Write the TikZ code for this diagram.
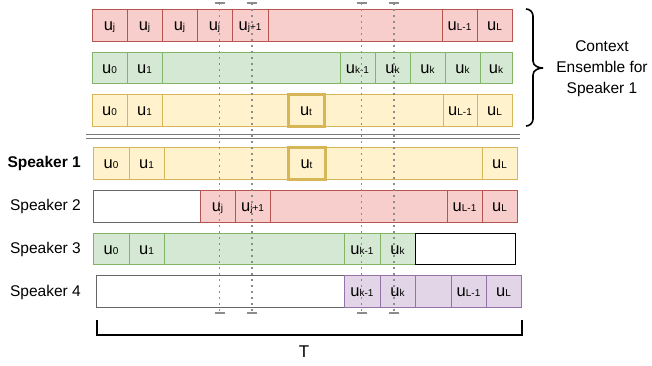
\documentclass[tikz,border=0pt]{standalone}
\usepackage{fontspec}
\setmainfont{Liberation Sans}
\definecolor{rfill}{HTML}{F8CECC}\definecolor{rline}{HTML}{B85450}
\definecolor{gfill}{HTML}{D5E8D4}\definecolor{gline}{HTML}{82B366}
\definecolor{yfill}{HTML}{FFF2CC}\definecolor{yline}{HTML}{D6B656}
\definecolor{pfill}{HTML}{E1D5E7}\definecolor{pline}{HTML}{9673A6}
\definecolor{dgray}{HTML}{666666}
\definecolor{dotgray}{HTML}{8C8C8C}
\definecolor{sepgray}{HTML}{7A7A7A}
\newcommand\uu[1]{{\fontsize{16.5}{16.5}\selectfont u}{\fontsize{10}{10}\selectfont #1}}
\newcommand\cbox[6]{\node[cellbox,#1,minimum width={#4-#3},minimum height={#6-#5}] (#2) at (#3,#5) {};}
\newcommand\lbl[2]{\node[inner sep=0,anchor=base] at ([yshift=-5.5pt]#1) {\uu{#2}};}
\tikzset{
  cellbox/.style={draw,line width=1pt,inner sep=0,outer sep=0,anchor=north west},
  red/.style={fill=rfill,draw=rline},
  grn/.style={fill=gfill,draw=gline},
  yel/.style={fill=yfill,draw=yline},
  pur/.style={fill=pfill,draw=pline},
  wht/.style={fill=white,draw=dgray},
  whtb/.style={fill=white,draw=black},
  boldy/.style={fill=yfill,draw=yline,line width=3pt},
  dotline/.style={draw=dotgray,line width=1.8pt,dash pattern=on 1.8pt off 4.2pt},
  tickmark/.style={draw=dotgray,line width=1.5pt},
  spk/.style={anchor=east,inner sep=0,font=\fontsize{15.5}{15.5}\selectfont},
}
\begin{document}
\begin{tikzpicture}[x=1pt,y=-1pt]
\useasboundingbox (0,0) rectangle (652,365);
% Context row 1 (red)
\cbox{red}{a1}{92}{127}{9}{41}\lbl{a1.center}{j}
\cbox{red}{a2}{127}{162}{9}{41}\lbl{a2.center}{j}
\cbox{red}{a3}{162}{197}{9}{41}\lbl{a3.center}{j}
\cbox{red}{a4}{197}{232}{9}{41}\lbl{a4.center}{j}
\cbox{red}{a5}{232}{268}{9}{41}\lbl{a5.center}{j+1}
\cbox{red}{a6}{268}{442}{9}{41}
\cbox{red}{a7}{442}{477}{9}{41}\lbl{a7.center}{L-1}
\cbox{red}{a8}{477}{512}{9}{41}\lbl{a8.center}{L}
% Context row 2 (green)
\cbox{grn}{b1}{92}{127}{52}{83}\lbl{b1.center}{0}
\cbox{grn}{b2}{127}{162}{52}{83}\lbl{b2.center}{1}
\cbox{grn}{b3}{162}{340}{52}{83}
\cbox{grn}{b4}{340}{375}{52}{83}\lbl{b4.center}{k-1}
\cbox{grn}{b5}{375}{410}{52}{83}\lbl{b5.center}{k}
\cbox{grn}{b6}{410}{445}{52}{83}\lbl{b6.center}{k}
\cbox{grn}{b7}{445}{480}{52}{83}\lbl{b7.center}{k}
\cbox{grn}{b8}{480}{512}{52}{83}\lbl{b8.center}{k}
% Context row 3 (yellow)
\cbox{yel}{c1}{92}{127}{94}{126}\lbl{c1.center}{0}
\cbox{yel}{c2}{127}{162}{94}{126}\lbl{c2.center}{1}
\cbox{yel}{c3}{162}{443}{94}{126}
\cbox{boldy}{c4}{288}{324}{94}{126}\lbl{c4.center}{t}
\cbox{yel}{c5}{443}{477}{94}{126}\lbl{c5.center}{L-1}
\cbox{yel}{c6}{477}{512}{94}{126}\lbl{c6.center}{L}
% separator
\coordinate (s1) at (86,134.5); \coordinate (s2) at (520,134.5);
\coordinate (s3) at (86,138.5); \coordinate (s4) at (520,138.5);
\draw[sepgray,line width=1.6pt] (s1) -- (s2) (s3) -- (s4);
% Speaker 1
\node[spk,font=\fontsize{15.5}{15.5}\selectfont\bfseries] (sp1) at (81,163) {Speaker 1};
\cbox{yel}{e1}{93}{129}{147}{179}\lbl{e1.center}{0}
\cbox{yel}{e2}{129}{164}{147}{179}\lbl{e2.center}{1}
\cbox{yel}{e3}{164}{482}{147}{179}
\cbox{boldy}{e4}{288}{325}{147}{179}\lbl{e4.center}{t}
\cbox{yel}{e5}{482}{517}{147}{179}\lbl{e5.center}{L}
% Speaker 2
\node[spk] (sp2) at (81,206) {Speaker 2};
\cbox{wht}{f0}{93}{200}{190}{222}
\cbox{red}{f1}{200}{235}{190}{222}\lbl{f1.center}{j}
\cbox{red}{f2}{235}{270}{190}{222}\lbl{f2.center}{j+1}
\cbox{red}{f3}{270}{447}{190}{222}
\cbox{red}{f4}{447}{482}{190}{222}\lbl{f4.center}{L-1}
\cbox{red}{f5}{482}{517}{190}{222}\lbl{f5.center}{L}
% Speaker 3
\node[spk] (sp3) at (81,249) {Speaker 3};
\cbox{grn}{g1}{93}{129}{233}{264}\lbl{g1.center}{0}
\cbox{grn}{g2}{129}{164}{233}{264}\lbl{g2.center}{1}
\cbox{grn}{g3}{164}{344}{233}{264}
\cbox{grn}{g4}{344}{380}{233}{264}\lbl{g4.center}{k-1}
\cbox{grn}{g5}{380}{415}{233}{264}\lbl{g5.center}{k}
\cbox{whtb}{g6}{415}{515}{233}{264}
% Speaker 4
\node[spk] (sp4) at (81,292) {Speaker 4};
\cbox{wht}{h0}{96}{344}{275}{307}
\cbox{pur}{h1}{344}{380}{275}{307}\lbl{h1.center}{k-1}
\cbox{pur}{h2}{380}{415}{275}{307}\lbl{h2.center}{k}
\cbox{pur}{h3}{415}{451}{275}{307}
\cbox{pur}{h4}{451}{486}{275}{307}\lbl{h4.center}{L-1}
\cbox{pur}{h5}{486}{521}{275}{307}\lbl{h5.center}{L}
% dotted alignment lines
\foreach \i/\x in {1/219.5,2/252,3/361.5,4/394}{
  \coordinate (dt\i) at (\x,3); \coordinate (db\i) at (\x,313);
  \draw[dotline] (dt\i) -- (db\i);
  \draw[tickmark] ([xshift=-5pt]dt\i) -- ([xshift=5pt]dt\i);
  \draw[tickmark] ([xshift=-5pt]db\i) -- ([xshift=5pt]db\i);
}
% T bracket
\coordinate (t1) at (97,320); \coordinate (t2) at (97,335);
\coordinate (t3) at (522,335); \coordinate (t4) at (522,320);
\draw[line width=2pt] (t1) -- (t2) -- (t3) -- (t4);
\node[inner sep=0,font=\fontsize{17}{17}\selectfont] (T) at (304,352) {T};
% brace
\coordinate (b0) at (526,9); \coordinate (bt) at (543,68); \coordinate (bb) at (526,126);
\draw[line width=1.6pt] (b0) to[out=0,in=90] (533,16) -- (533,61) to[out=-90,in=180] (bt);
\draw[line width=1.6pt] (bt) to[out=180,in=90] (533,75) -- (533,119) to[out=-90,in=0] (bb);
\node[align=center,inner sep=0,font=\fontsize{15.5}{21}\selectfont] (ctx) at (602,69) {Context\\Ensemble for\\Speaker 1};
\end{tikzpicture}
\end{document}
